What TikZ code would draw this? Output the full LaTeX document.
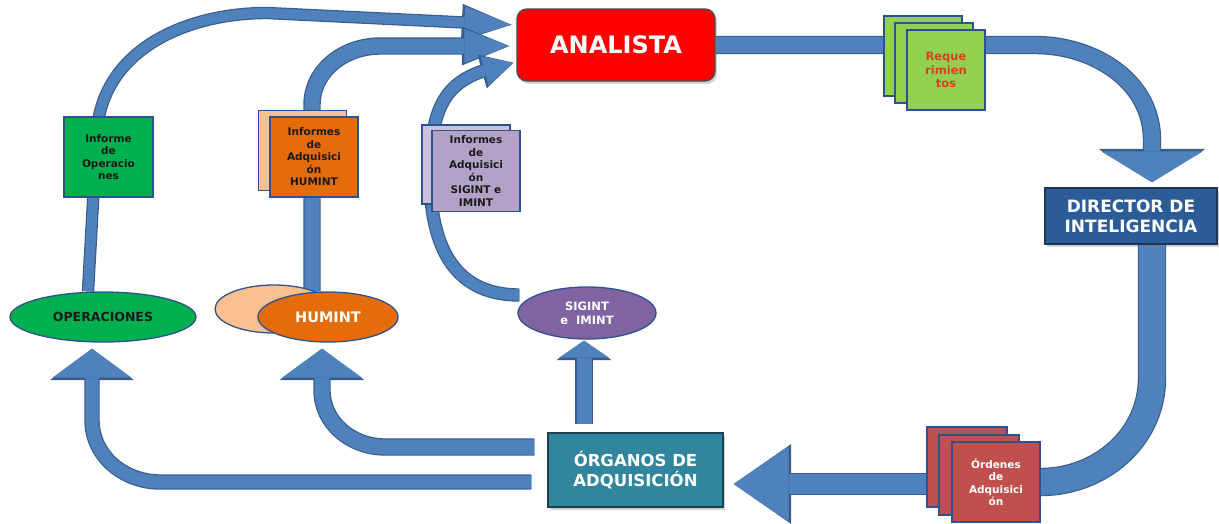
\documentclass[tikz,border=0pt]{standalone}
\usepackage{fontspec}
\setmainfont{DejaVu Sans}
\usetikzlibrary{arrows.meta, shapes.geometric, shadows, backgrounds}

\definecolor{flechafill}{HTML}{4F81BD}
\definecolor{flechaline}{HTML}{385D8A}
\definecolor{borde}{HTML}{2F528F}
\definecolor{rojo}{HTML}{FF0000}
\definecolor{rojotexto}{HTML}{D9411E}
\definecolor{verdeclaro}{HTML}{92D050}
\definecolor{verde}{HTML}{00B050}
\definecolor{naranja}{HTML}{E46C0A}
\definecolor{melocoton}{HTML}{FAC090}
\definecolor{morado}{HTML}{8064A2}
\definecolor{lila}{HTML}{B3A2C7}
\definecolor{lilaclaro}{HTML}{CCC1DA}
\definecolor{azuldir}{HTML}{2C5C97}
\definecolor{azulorg}{HTML}{31859C}
\definecolor{rojoord}{HTML}{C0504D}
\definecolor{oscuro}{HTML}{1A1A1A}

% block arrow: outline pass, then fill pass
\newcommand{\flecha}[5][]{%
  \pgfmathsetmacro{\fw}{#2+2.4}%
  \pgfmathsetmacro{\fl}{#3+2.5}%
  \pgfmathsetmacro{\fh}{#4+5}%
  \draw[#1, draw=flechaline, line width=\fw pt, -{Triangle[length=\fl pt, width=\fh pt, line width=0pt]}] #5;
  \draw[#1, draw=flechafill, line width=#2pt, -{Triangle[length=#3pt, width=#4pt, line width=0pt]}] #5;
}
\newcommand{\tubo}[2]{%
  \pgfmathsetmacro{\fw}{#1+2.4}%
  \draw[draw=flechaline, line width=\fw pt] #2;
  \draw[draw=flechafill, line width=#1pt] #2;
}

\begin{document}
\begin{tikzpicture}[x=1pt, y=1pt,
    caja/.style={draw=#1, line width=1.4pt, align=center, text=white,
      drop shadow={shadow xshift=2pt, shadow yshift=-3pt, opacity=0.35}},
    hoja/.style={draw=borde, line width=1.3pt, minimum width=88pt, minimum height=80pt,
      align=center, inner sep=1pt, font=\fontsize{10.5}{12.5}\selectfont\bfseries},
    elipse/.style={ellipse, draw=borde, line width=1.3pt, inner sep=0pt, align=center}]
    \useasboundingbox (0,0) rectangle (1219,-523);

    % centro
    \node[caja=black!70, fill=rojo, minimum width=198pt, minimum height=72pt, rounded corners=10pt,
      font=\fontsize{24}{28}\selectfont\bfseries] (analista) at (616,-45) {ANALISTA};
    \node[caja=azuldir!60!black, fill=azuldir, minimum width=172pt, minimum height=56pt,
      font=\fontsize{17}{20}\selectfont\bfseries] (director) at (1131,-216) {DIRECTOR DE\\INTELIGENCIA};
    \node[caja=azulorg!50!black, fill=azulorg, minimum width=175pt, minimum height=74pt,
      font=\fontsize{16.5}{20}\selectfont\bfseries] (organos) at (635.5,-470) {ÓRGANOS DE\\ADQUISICIÓN};

    % documentos
    \node[hoja, fill=verdeclaro, minimum width=78pt] (req1) at (923,-56) {};
    \node[hoja, fill=verdeclaro, minimum width=78pt] (req2) at (934,-63) {};
    \node[hoja, fill=verdeclaro, minimum width=78pt, text=rojotexto,
      font=\fontsize{11.5}{13.5}\selectfont\bfseries] (req3) at (946,-70) {Reque\\rimien\\tos};
    \node[hoja, fill=rojoord, minimum width=80pt] (ord1) at (967,-467) {};
    \node[hoja, fill=rojoord, minimum width=80pt] (ord2) at (979,-475) {};
    \node[hoja, fill=rojoord, text=white] (ord3) at (996,-482) {Órdenes\\de\\Adquisici\\ón};
    \node[hoja, fill=verde, minimum width=89pt, text=oscuro] (infop) at (108.5,-157) {Informe\\de\\Operacio\\nes};
    \node[hoja, fill=melocoton] (infhumb) at (302.5,-150.5) {};
    \node[hoja, fill=naranja, text=oscuro] (infhum) at (314,-157) {Informes\\de\\Adquisici\\ón\\HUMINT};
    \node[hoja, fill=lilaclaro, minimum height=79pt] (infsigb) at (466,-164.5) {};
    \node[hoja, fill=lila, minimum height=81pt, text=oscuro] (infsig) at (476,-171)
      {Informes\\de\\Adquisici\\ón\\SIGINT e\\IMINT};

    % fuentes
    \node[elipse, fill=verde, minimum width=186pt, minimum height=50pt, text=oscuro,
      font=\fontsize{12.5}{15}\selectfont\bfseries] (operaciones) at (103,-317) {OPERACIONES};
    \node[elipse, fill=melocoton, minimum width=118pt, minimum height=48pt] (humintb) at (274,-309) {};
    \node[elipse, fill=naranja, minimum width=140pt, minimum height=50pt, text=white,
      font=\fontsize{14.5}{17}\selectfont\bfseries] (humint) at (328,-317) {HUMINT};
    \node[elipse, fill=morado, minimum width=138pt, minimum height=52pt, text=white,
      font=\fontsize{11.5}{14}\selectfont\bfseries] (sigint) at (587,-313) {SIGINT\\e\ \ IMINT};

    \begin{pgfonlayer}{background}
    \flecha[shorten >=5pt]{16}{31}{102}{(analista.east) -- (1035,-45) to[out=0,in=90] (1152,-140) -- ([xshift=21pt]director.north)}
    \tubo{26}{([xshift=21pt]director.south) -- (1152,-378) to[out=-90,in=0] (ord3.east)}
    \flecha[shorten >=10pt]{20}{55}{75}{([yshift=-17pt]ord1.center) -- ([yshift=-14pt]organos.east)}
    \flecha[shorten <=16pt, shorten >=6pt]{13}{29}{79}{([yshift=-12pt]organos.west) -- (160,-482) to[out=180,in=-90] (92,-420) -- ([xshift=-11pt]operaciones.south)}
    \flecha[shorten <=13pt, shorten >=6pt]{15}{29}{80}{([yshift=23pt]organos.west) -- (385,-447) to[out=180,in=-90] (322,-390) -- ([xshift=-6pt]humint.south)}
    \flecha[shorten <=8pt, shorten >=1pt]{15}{17}{50}{([xshift=-51.5pt]organos.north) -- ([xshift=-3pt]sigint.south)}
    \flecha[shorten >=5pt]{10}{47}{32}{([xshift=-15pt]operaciones.north) -- (97,-130) to[out=85,in=180] (267,-13) -- ([yshift=20pt]analista.west)}
    \flecha[shorten >=7pt]{15}{45}{34}{([xshift=-16pt]humint.north) -- (312,-105) to[out=90,in=180] (380,-46) -- ([yshift=-1pt]analista.west)}
    \flecha[shorten >=3pt]{11}{30}{30}{([shift={(2pt,18pt)}]sigint.west) .. controls (450,-295) and (430,-240) .. (430,-175) .. controls (430,-110) and (445,-85) .. (480,-72) -- ([yshift=-17pt]analista.west)}
    \end{pgfonlayer}
\end{tikzpicture}
\end{document}
